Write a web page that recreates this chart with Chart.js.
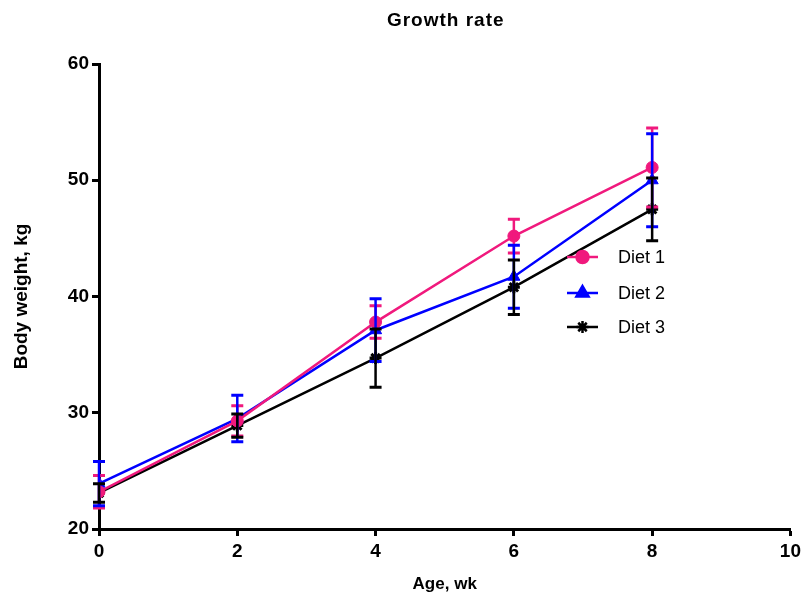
<!DOCTYPE html>
<html>
<head>
<meta charset="utf-8">
<script src="https://cdn.jsdelivr.net/npm/chart.js@4.4.1/dist/chart.umd.min.js"></script>
<style>
  html, body { margin: 0; padding: 0; background: #fff; }
  #wrap { width: 805px; height: 595px; }
</style>
</head>
<body>
<div id="wrap"><canvas id="growth" width="805" height="595"></canvas></div>
<script>
// age in weeks
const ages = [0, 2, 4, 6, 8];

// mean body weight (kg) and SD per diet
const diet1 = [23.2, 29.3, 37.8, 45.2, 51.1];
const diet1Sd = [1.4, 1.3, 1.4, 1.45, 3.4];
const diet2 = [23.9, 29.5, 37.1, 41.7, 50.0];
const diet2Sd = [1.9, 2.0, 2.7, 2.7, 4.0];
const diet3 = [23.1, 28.9, 34.7, 40.8, 47.5];
const diet3Sd = [0.8, 1.0, 2.5, 2.35, 2.7];

const xTicks = [0, 2, 4, 6, 8, 10];
const yTicks = [20, 30, 40, 50, 60];

const seriesNames = ['Diet 1', 'Diet 2', 'Diet 3'];
const seriesColors = ['#f0197d', '#0000ff', '#000000'];
const seriesMarkers = ['circle', 'triangle', 'star'];

const FONT = "'Liberation Sans', Arial, sans-serif";

function pts(vals) {
  return vals.map((v, i) => ({ x: ages[i], y: v }));
}

const sdList = [diet1Sd, diet2Sd, diet3Sd];

// vertical error bars with caps, drawn through the chart scales
const errorBars = {
  id: 'errorBars',
  afterDatasetsDraw(chart) {
    const { ctx, scales: { x, y } } = chart;
    ctx.save();
    chart.data.datasets.forEach((ds, di) => {
      const sd = sdList[di];
      ctx.strokeStyle = seriesColors[di];
      ds.data.forEach((p, j) => {
        const px = x.getPixelForValue(p.x);
        const top = y.getPixelForValue(p.y + sd[j]);
        const bot = y.getPixelForValue(p.y - sd[j]);
        ctx.lineWidth = 2.5;
        ctx.beginPath();
        ctx.moveTo(px, top);
        ctx.lineTo(px, bot);
        ctx.stroke();
        ctx.lineWidth = 3;
        ctx.beginPath();
        ctx.moveTo(px - 6, top); ctx.lineTo(px + 6, top);
        ctx.moveTo(px - 6, bot); ctx.lineTo(px + 6, bot);
        ctx.stroke();
      });
    });
    ctx.restore();
  }
};

// title centred over the plot area, legend inside the plot
const titleAndLegend = {
  id: 'titleAndLegend',
  afterDraw(chart) {
    const { ctx, chartArea } = chart;
    ctx.save();
    ctx.fillStyle = '#000';
    ctx.font = 'bold 19px ' + FONT;
    ctx.textAlign = 'center';
    ctx.textBaseline = 'middle';
    ctx.letterSpacing = '1px';
    ctx.fillText('Growth rate', (chartArea.left + chartArea.right) / 2 + 1, 21);
    ctx.letterSpacing = '0px';
    ctx.textAlign = 'left';

    const x0 = 567, rowY = [257, 293, 327];
    chart.data.datasets.forEach((ds, i) => {
      const yy = rowY[i];
      ctx.strokeStyle = seriesColors[i];
      ctx.fillStyle = seriesColors[i];
      ctx.lineWidth = 2.5;
      ctx.beginPath();
      ctx.moveTo(x0, yy);
      ctx.lineTo(x0 + 31, yy);
      ctx.stroke();
      Chart.helpers.drawPoint(ctx, {
        pointStyle: seriesMarkers[i],
        radius: ds.pointRadius,
        borderWidth: ds.pointBorderWidth
      }, x0 + 15.5, yy);
      ctx.fillStyle = '#000';
      ctx.font = '18px ' + FONT;
      ctx.fillText(seriesNames[i], x0 + 51, yy + 1);
    });
    ctx.restore();
  }
};

function makeSet(i, vals, radius) {
  return {
    label: seriesNames[i],
    data: pts(vals),
    borderColor: seriesColors[i],
    backgroundColor: seriesColors[i],
    pointBackgroundColor: seriesColors[i],
    pointBorderColor: seriesColors[i],
    pointStyle: seriesMarkers[i],
    pointRadius: radius,
    pointBorderWidth: i === 2 ? 3 : 1,
    borderWidth: 2.5,
    tension: 0
  };
}

new Chart(document.getElementById('growth'), {
  type: 'line',
  data: {
    datasets: [
      makeSet(0, diet1, 6),
      makeSet(1, diet2, 7),
      makeSet(2, diet3, 6)
    ]
  },
  options: {
    responsive: false,
    animation: false,
    events: [],
    layout: { padding: { top: 64, right: 13, bottom: 0, left: 0 } },
    plugins: {
      legend: { display: false },
      tooltip: { enabled: false },
      title: { display: false }
    },
    scales: {
      x: {
        type: 'linear',
        min: 0,
        max: 10,
        afterBuildTicks(s) { s.ticks = xTicks.map(v => ({ value: v })); },
        afterFit(s) { s.height = 66; },
        border: { display: true, color: '#000', width: 3 },
        grid: { display: true, drawOnChartArea: false, drawTicks: true, tickLength: 7, tickWidth: 3, color: '#000' },
        ticks: { color: '#000', padding: 4, maxRotation: 0, font: { family: FONT, size: 19, weight: 'bold' } },
        title: { display: true, text: 'Age, wk', color: '#000', padding: { top: 6, bottom: 0 }, font: { family: FONT, size: 17, weight: 'bold' } }
      },
      y: {
        min: 20,
        max: 60,
        afterBuildTicks(s) { s.ticks = yTicks.map(v => ({ value: v })); },
        afterFit(s) { s.width = 99; },
        border: { display: true, color: '#000', width: 3 },
        grid: { display: true, drawOnChartArea: false, drawTicks: true, tickLength: 7, tickWidth: 3, color: '#000' },
        ticks: { color: '#000', padding: 3, font: { family: FONT, size: 19, weight: 'bold' } },
        title: { display: true, text: 'Body weight, kg', color: '#000', padding: { top: 10, bottom: 0 }, font: { family: FONT, size: 19, weight: 'bold' } }
      }
    }
  },
  plugins: [errorBars, titleAndLegend]
});
</script>
</body>
</html>
